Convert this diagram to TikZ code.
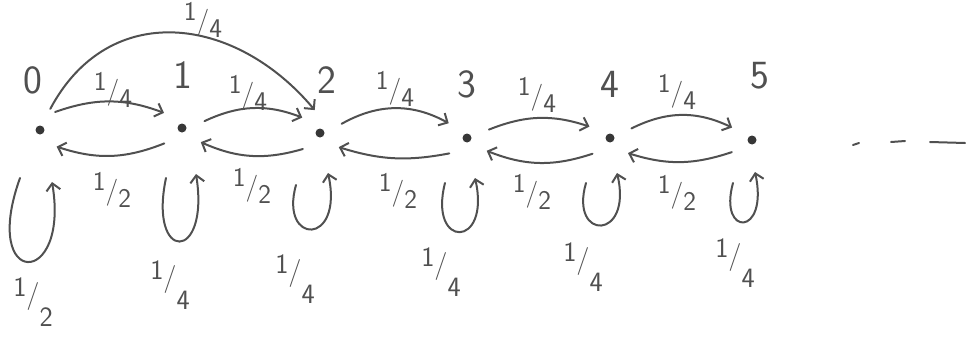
\documentclass[tikz,border=0pt]{standalone}
\usetikzlibrary{arrows.meta}
\definecolor{ink}{RGB}{80,80,80}
\definecolor{dotink}{RGB}{55,55,55}
\newcommand{\hfr}[2]{\raisebox{0.3em}{#1}/\raisebox{-0.3em}{#2}}
\newcommand{\lfr}[2]{\raisebox{0.55em}{#1}\raisebox{0.3em}{/}\raisebox{-0.5em}{#2}}
\begin{document}
\begin{tikzpicture}[x=1pt,y=1pt,
  inkline/.style={draw=ink, line width=2pt, line cap=round},
  arr/.style={inkline, -{Straight Barb[length=7pt,width=14pt]}},
  state/.style={circle, fill=dotink, minimum size=9pt, inner sep=0pt, outer sep=19pt},
  num/.style={text=ink, font=\fontsize{40}{42}\selectfont\sffamily, inner sep=0pt},
  frac/.style={text=ink, font=\fontsize{27}{29}\selectfont\sffamily, inner sep=0pt},
  lfrac/.style={text=ink, font=\fontsize{28}{30}\selectfont\sffamily, inner sep=0pt},
]
\useasboundingbox (0,0) rectangle (966,-340);
% states
\node[state] (n0) at (40,-130) {};
\node[state] (n1) at (182,-128) {};
\node[state] (n2) at (320,-133) {};
\node[state] (n3) at (467,-138) {};
\node[state] (n4) at (610,-138) {};
\node[state] (n5) at (752,-140) {};
% state names
\node[num] (t0) at (33,-80) {0};
\node[num] (t1) at (183,-75) {1};
\node[num] (t2) at (327,-80) {2};
\node[num] (t3) at (467,-84) {3};
\node[num] (t4) at (610,-84) {4};
\node[num] (t5) at (760,-76) {5};
% right arrows
\draw[arr] (n0.50) to[bend left=20] (n1.140);
\draw[arr] (n1.17) to[bend left=23] (n2.139);
\draw[arr] (n2.23) to[bend left=29] (n3.141);
\draw[arr] (n3.21) to[bend left=20] (n4.151);
\draw[arr] (n4.24) to[bend left=26] (n5.148);
% left arrows
\draw[arr] (n1.221) to[bend left=20] (n0.-45);
\draw[arr] (n2.223) to[bend left=20] (n1.-37);
\draw[arr] (n3.221) to[bend left=14] (n2.-37);
\draw[arr] (n4.222) to[bend left=20] (n3.-33);
\draw[arr] (n5.211) to[bend left=18] (n4.-40);
% jump 0 -> 2
\draw[arr] (n0.64) to[out=62,in=130,looseness=1.2] (n2.103);
% self loops
\draw[arr] ([shift={(-20,-48)}]n0.center) .. controls +(-40,-111) and +(18,-107) .. ([shift={(12,-52)}]n0.center);
\draw[arr] ([shift={(-16,-50)}]n1.center) .. controls +(-18,-85) and +(14,-89) .. ([shift={(14,-46)}]n1.center);
\draw[arr] ([shift={(-24,-52)}]n2.center) .. controls +(-17,-60) and +(16,-74) .. ([shift={(8,-40)}]n2.center);
\draw[arr] ([shift={(-22,-45)}]n3.center) .. controls +(-17,-66) and +(16,-71) .. ([shift={(8,-40)}]n3.center);
\draw[arr] ([shift={(-24,-45)}]n4.center) .. controls +(-17,-58) and +(16,-68) .. ([shift={(7,-35)}]n4.center);
\draw[arr] ([shift={(-19,-43)}]n5.center) .. controls +(-15,-54) and +(14,-65) .. ([shift={(3,-32)}]n5.center);
% labels on forward arrows
\node[frac] (r01) at (113,-90) {\hfr{1}{4}};
\node[frac] (r12) at (248,-93) {\hfr{1}{4}};
\node[frac] (r23) at (395,-89) {\hfr{1}{4}};
\node[frac] (r34) at (537,-95) {\hfr{1}{4}};
\node[frac] (r45) at (677,-92) {\hfr{1}{4}};
\node[frac] (r02) at (203,-20) {\hfr{1}{4}};
% labels on backward arrows
\node[frac] (l10) at (112,-190) {\hfr{1}{2}};
\node[frac] (l21) at (252,-186) {\hfr{1}{2}};
\node[frac] (l32) at (398,-191) {\hfr{1}{2}};
\node[frac] (l43) at (532,-192) {\hfr{1}{2}};
\node[frac] (l54) at (677,-193) {\hfr{1}{2}};
% loop labels
\node[lfrac] (s0) at (33,-302) {\lfr{1}{2}};
\node[lfrac] (s1) at (170,-285) {\lfr{1}{4}};
\node[lfrac] (s2) at (295,-279) {\lfr{1}{4}};
\node[lfrac] (s3) at (441,-272) {\lfr{1}{4}};
\node[lfrac] (s4) at (583,-267) {\lfr{1}{4}};
\node[lfrac] (s5) at (735,-263) {\lfr{1}{4}};
% trailing dashes
\coordinate (d1a) at (853,-145); \coordinate (d1b) at (859,-143);
\coordinate (d2a) at (891,-142); \coordinate (d2b) at (905,-141);
\coordinate (d3a) at (930,-142); \coordinate (d3b) at (965,-143);
\draw[inkline] (d1a) -- (d1b);
\draw[inkline] (d2a) -- (d2b);
\draw[inkline] (d3a) -- (d3b);
\end{tikzpicture}
\end{document}
